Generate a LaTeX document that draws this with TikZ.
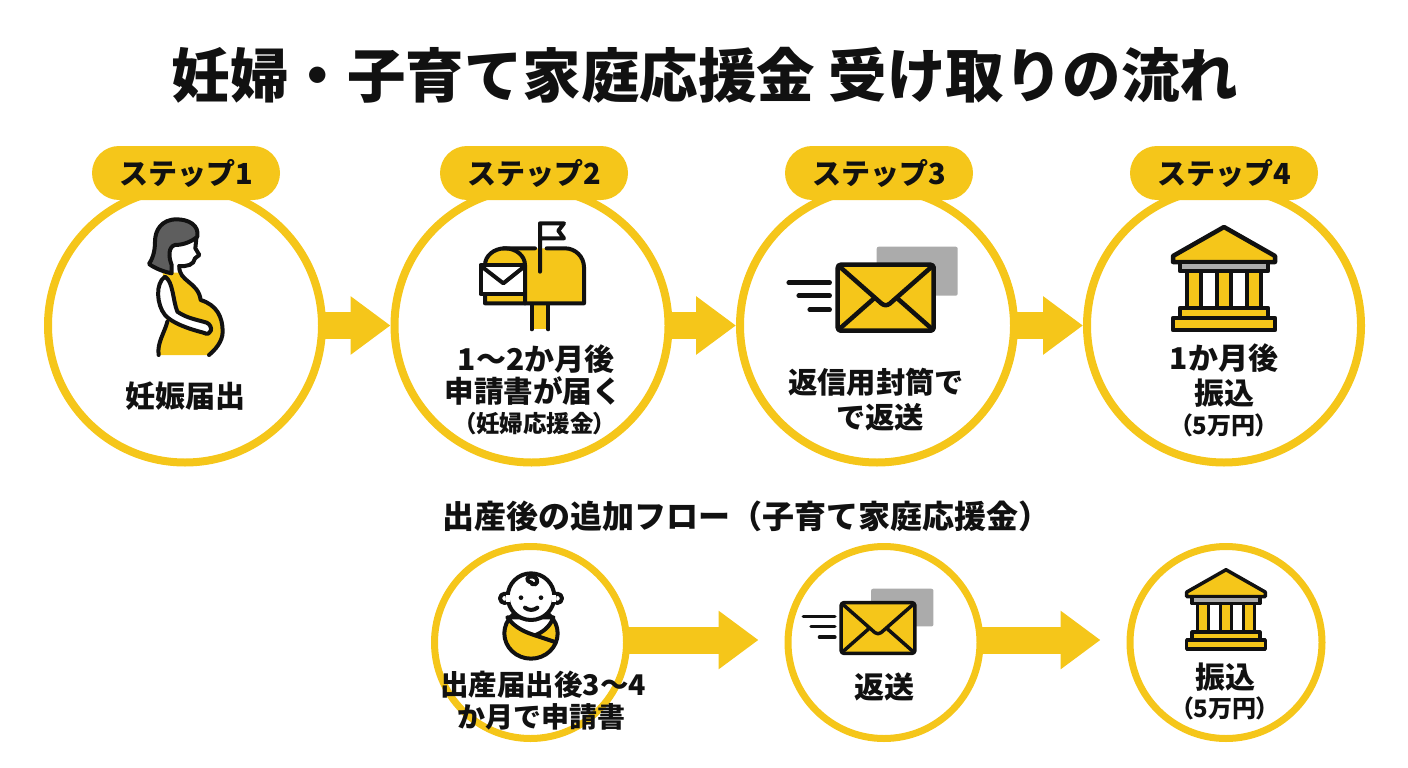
\documentclass[tikz,border=0pt]{standalone}
\usepackage{fontspec}
\usetikzlibrary{arrows.meta}
\setmainfont{Noto Sans CJK JP}
\newfontfamily\jpnarrow[RawFeature={+palt}]{Noto Sans CJK JP}
\definecolor{markyellow}{HTML}{F5C61A}
\definecolor{inkblack}{HTML}{111111}
\definecolor{softgray}{HTML}{ABABAB}
\definecolor{hairgray}{HTML}{5E5E5E}
\tikzset{
  txt/.style={inner sep=0pt,text=inkblack,font=\bfseries\fontsize{#1pt}{#1pt}\selectfont,
    text height={.88*#1pt},text depth={.12*#1pt}},
  bigring/.style={circle,draw=markyellow,line width=8pt,minimum size=274pt,inner sep=0pt},
  smallring/.style={circle,draw=markyellow,line width=7pt,minimum size=192pt,inner sep=0pt},
  steppill/.style={txt=29,fill=markyellow,rounded corners=27pt,minimum width=188pt,minimum height=54pt},
  flowarrow/.style={draw=markyellow,line width=27pt,shorten <=-6pt,-{Triangle[length=40pt,width=56pt,fill=markyellow]}},
  iconline/.style={draw=inkblack,line join=round,line cap=round},
  bankicon/.pic={
    \draw[iconline,fill=markyellow] (0,-51) -- (-51,-22) -- (-51,-16) -- (51,-16) -- (51,-22) -- cycle;
    \draw[iconline,fill=softgray] (-44,-16) rectangle (44,-7);
    \draw[iconline,fill=markyellow] (-37,-7) rectangle (-23,30);
    \draw[iconline,fill=markyellow] (-7,-7) rectangle (7,30);
    \draw[iconline,fill=markyellow] (23,-7) rectangle (37,30);
    \draw[iconline,fill=markyellow] (-44,30) rectangle (44,40);
    \draw[iconline,fill=markyellow] (-51,40) rectangle (51,52);
  },
  mailicon/.pic={
    \fill[softgray,rounded corners=2pt] (-9,-51) rectangle (72,-2);
    \draw[iconline] (-97,-15) -- (-56,-15);
    \draw[iconline] (-87,-2) -- (-56,-2);
    \draw[iconline] (-76,12) -- (-56,12);
    \draw[iconline,fill=markyellow,rounded corners=3pt] (-48,-33) rectangle (48,33);
    \draw[iconline] (-46,-31) -- (-4,6) .. controls (-1,8) and (1,8) .. (4,6) -- (46,-31);
    \draw[iconline] (-46,31) -- (-12,1);
    \draw[iconline] (46,31) -- (12,1);
  },
}
\begin{document}
\begin{tikzpicture}[x=1pt,y=-1pt]
\useasboundingbox (0,0) rectangle (1408,768);
\node[txt=58.5] (title) at (705,75) {妊婦・子育て家庭応援金 受け取りの流れ};
% upper row
\node[bigring] (c1) at (185,325.5) {};
\node[bigring] (c2) at (531.5,325.5) {};
\node[bigring] (c3) at (877,325.5) {};
\node[bigring] (c4) at (1224,325.5) {};
\draw[flowarrow] (c1) -- (c2);
\draw[flowarrow] (c2) -- (c3);
\draw[flowarrow] (c3) -- (c4);
\node[steppill] (p1) at (186,173) {ステップ1};
\node[steppill] (p2) at (534,173) {ステップ2};
\node[steppill] (p3) at (879,173) {ステップ3};
\node[steppill] (p4) at (1224,173) {ステップ4};
% woman
\begin{scope}[shift={(40,140)},scale=1/3,line width=4pt]
\path[fill=markyellow] (368,398) -- (415,398) .. controls (430,425) and (475,430) .. (485,482) .. controls (530,495) and (548,530) .. (548,575) .. controls (548,605) and (525,630) .. (505,645) -- (355,645) .. controls (352,610) and (375,570) .. (380,535) -- cycle;
\draw[iconline] (418,378) .. controls (415,425) and (475,425) .. (482,480) .. controls (530,495) and (548,530) .. (548,575) .. controls (548,605) and (525,630) .. (507,645);
\draw[iconline] (356,645) .. controls (350,610) and (375,575) .. (382,545);
\draw[iconline,fill=white] (375,410) .. controls (400,425) and (398,480) .. (412,515) .. controls (440,535) and (475,540) .. (500,548) .. controls (522,558) and (515,592) .. (490,578) .. controls (440,565) and (395,548) .. (375,525) .. controls (350,495) and (345,430) .. (375,410) -- cycle;
\draw[iconline] (470,285) -- (466,325) -- (478,345) -- (465,355) .. controls (462,375) and (440,380) .. (418,378);
\draw[iconline,fill=hairgray] (472,290) .. controls (478,255) and (445,238) .. (410,238) .. controls (365,238) and (345,270) .. (345,305) .. controls (345,340) and (335,360) .. (327,372) .. controls (345,385) and (370,395) .. (395,400) -- (395,375) .. controls (385,350) and (385,320) .. (405,315) .. controls (430,315) and (455,305) .. (472,290) -- cycle;
\end{scope}
% mailbox
\begin{scope}[shift={(390,140)},scale=1/3,line width=4pt]
\fill[markyellow] (425,490) rectangle (475,568);
\draw[iconline] (425,490) -- (425,568) (475,490) -- (475,568);
\path[fill=markyellow] (340,325) -- (525,325) arc[start angle=-90,end angle=0,radius=57] -- (582,490) -- (285,490) -- (285,380) arc[start angle=180,end angle=270,radius=55] -- cycle;
\draw[iconline] (340,325) -- (435,325) (470,325) -- (525,325) arc[start angle=-90,end angle=0,radius=57] -- (582,490) -- (285,490) -- (285,465);
\draw[iconline] (285,375) arc[start angle=180,end angle=360,x radius=60,y radius=50] -- (405,490);
\draw[iconline,fill=white] (272,375) rectangle (405,462);
\draw[iconline] (278,382) -- (340,430) -- (400,382);
\draw[iconline,fill=white] (450,395) -- (450,250) -- (522,250) -- (505,272) -- (522,295) -- (450,295);
\end{scope}
\pic[line width=4.5pt] (m3) at (885.7,297.7) {mailicon};
\pic[line width=4.5pt] (b4) at (1224,278) {bankicon};
% upper labels
\node[txt=30] (t1) at (185,396) {妊娠届出};
\node[txt=30] (t2a) at (536,359) {1〜2か月後};
\node[txt=29.5] (t2b) at (533,391) {申請書が届く};
\node[txt=23.5,font=\jpnarrow\bfseries\fontsize{23.5pt}{23.5pt}\selectfont] (t2c) at (535,424) {（妊婦応援金）};
\node[txt=29.3] (t3a) at (876,382) {返信用封筒で};
\node[txt=29.3] (t3b) at (880,417) {で返送};
\node[txt=30] (t4a) at (1224,358) {1か月後};
\node[txt=30] (t4b) at (1224,393) {振込};
\node[txt=24,font=\jpnarrow\bfseries\fontsize{24pt}{24pt}\selectfont] (t4c) at (1224,425) {（5万円）};
% lower row
\node[txt=32] (flowtitle) at (746,516) {出産後の追加フロー（子育て家庭応援金）};
\node[smallring] (d1) at (530.5,642.5) {};
\node[smallring] (d2) at (884,642.5) {};
\node[smallring] (d3) at (1226,642.5) {};
\draw[flowarrow,shorten >=26pt] ([yshift=2.5pt]d1.east) -- ([yshift=2.5pt]d2.west);
\draw[flowarrow,shorten >=26pt] ([yshift=2.5pt]d2.east) -- ([yshift=2.5pt]d3.west);
% baby
\begin{scope}[shift={(420,540)},scale=1/3,line width=4pt]
\draw[iconline,fill=markyellow] (333,280) ellipse[x radius=80,y radius=76];
\draw[iconline,fill=white] (262,232) .. controls (285,265) and (320,278) .. (345,286) .. controls (365,278) and (390,262) .. (400,232) -- cycle;
\draw[iconline] (345,286) -- (402,305);
\draw[iconline,fill=white] (254,175) circle[radius=14];
\draw[iconline,fill=white] (412,175) circle[radius=14];
\draw[iconline,fill=white] (333,170) ellipse[x radius=70,y radius=70];
\fill[white] (258,165) rectangle (270,185);
\fill[white] (396,165) rectangle (408,185);
\draw[iconline] (335,128) .. controls (312,122) and (322,105) .. (340,110) .. controls (360,116) and (352,140) .. (336,132);
\fill[inkblack] (303,173) circle[radius=7];
\fill[inkblack] (363,173) circle[radius=7];
\draw[iconline] (315,203) .. controls (325,212) and (342,212) .. (352,203);
\end{scope}
\pic[scale=.77,line width=3.5pt] (m5) at (878,628) {mailicon};
\pic[scale=.77,line width=3.5pt] (b6) at (1226,609) {bankicon};
% lower labels
\node[txt=28.5] (u1a) at (543,685) {出産届出後3〜4};
\node[txt=28] (u1b) at (541,717) {か月で申請書};
\node[txt=30] (u2) at (884,687) {返送};
\node[txt=30] (u3a) at (1225,677) {振込};
\node[txt=24,font=\jpnarrow\bfseries\fontsize{24pt}{24pt}\selectfont] (u3b) at (1225,708) {（5万円）};
\end{tikzpicture}
\end{document}
